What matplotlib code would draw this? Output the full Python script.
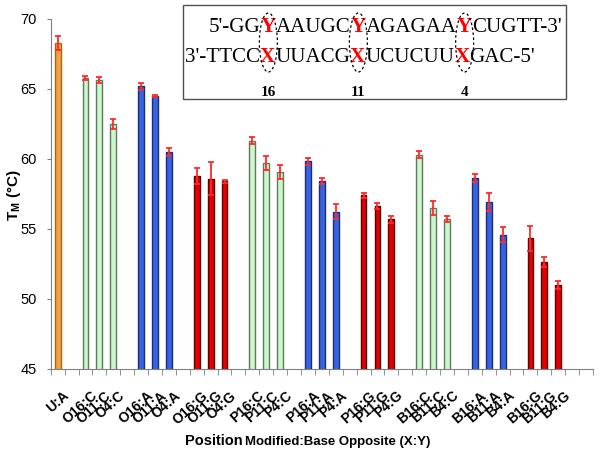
import numpy as np
import matplotlib
matplotlib.use("Agg")
import matplotlib.pyplot as plt
from matplotlib.patches import Rectangle, Ellipse
from matplotlib.transforms import ScaledTranslation

plt.rcParams.update({"font.family": "Liberation Sans",
                     "mathtext.fontset": "custom",
                     "mathtext.rm": "Liberation Sans",
                     "mathtext.bf": "Liberation Sans:bold"})

# --- data ---
labels = ["U:A",
          "O16:C", "O11:C", "O4:C", "O16:A", "O11:A", "O4:A", "O16:G", "O11:G", "O4:G",
          "P16:C", "P11:C", "P4:C", "P16:A", "P11:A", "P4:A", "P16:G", "P11:G", "P4:G",
          "B16:C", "B11:C", "B4:C", "B16:A", "B11:A", "B4:A", "B16:G", "B11:G", "B4:G"]
tm = [68.3,
      65.8, 65.65, 62.5, 65.2, 64.5, 60.5, 58.8, 58.6, 58.4,
      61.3, 59.7, 59.05, 59.85, 58.45, 56.25, 57.4, 56.65, 55.7,
      60.3, 56.5, 55.7, 58.65, 56.95, 54.6, 54.35, 52.65, 51.0]
err = [0.5,
       0.15, 0.2, 0.35, 0.25, 0.1, 0.3, 0.55, 1.2, 0.1,
       0.25, 0.5, 0.5, 0.25, 0.2, 0.55, 0.15, 0.2, 0.25,
       0.25, 0.5, 0.2, 0.3, 0.65, 0.55, 0.9, 0.35, 0.3]

seq_top = ["5'-GG", "Y", "AAUGC", "Y", "AGAGAA", "Y", "CUGTT-3'"]
seq_bot = ["3'-TTCC", "X", "UUACG", "X", "UCUCUU", "X", "GAC-5'"]
site_nums = ["16", "11", "4"]

# fill / edge colour by opposite base
fills = {"A": ("#3464E0", "#1C2C7A"), "C": ("#CCF7CC", "#5E7A5E"),
         "G": ("#E40000", "#5A0000"), "U:A": ("#F2A23E", "#A06A20")}

W, H = 602, 455
fig = plt.figure(figsize=(W / 100, H / 100), dpi=100)
ax = fig.add_axes([50.7 / W, 1 - 369 / H, (593 - 50.7) / W, 350 / H])

# slot layout: control, gap, then groups of three separated by a gap
pos = [0] + [2 + 4 * (i // 3) + i % 3 for i in range(len(labels) - 1)]
cols = [fills["U:A"] if l == "U:A" else fills[l[-1]] for l in labels]

ax.bar(pos, tm, width=0.42, color=[c[0] for c in cols],
       edgecolor=[c[1] for c in cols], linewidth=1.0, zorder=2)
ax.errorbar(pos, tm, yerr=err, fmt="none", ecolor="#FF2A2A", elinewidth=1.3,
            capsize=2.2, capthick=1.3, zorder=3)

ax.set_ylim(45, 70)
ax.set_xlim(-0.5, 38.5)
ax.set_yticks([45, 50, 55, 60, 65, 70])
ax.tick_params(axis="y", labelsize=10.5, length=3, color="#808080", pad=7)
ax.set_xticks(pos)
ax.set_xticklabels(labels, rotation=42, ha="right", va="top", rotation_mode="anchor",
                   fontweight="bold", fontsize=10)
ax.set_xticks(np.arange(-0.5, 39, 1), minor=True)
ax.tick_params(axis="x", which="major", length=0, pad=14)
ax.tick_params(axis="x", which="minor", length=4, color="#808080")
off = ScaledTranslation(5 / 100, 0, fig.dpi_scale_trans)
for t in ax.get_xticklabels():
    t.set_transform(t.get_transform() + off)
for s in ("top", "right"):
    ax.spines[s].set_visible(False)
for s in ("left", "bottom"):
    ax.spines[s].set_color("#808080")

fig.text(14 / W, 1 - 195 / H, r"T$_\mathbf{M}$ (°C)", rotation=90, ha="center",
         va="center", fontsize=11, fontweight="bold")

fig.canvas.draw()
rend = fig.canvas.get_renderer()

t1 = fig.text(185 / W, 10 / H, "Position", fontsize=10.5, fontweight="bold", va="baseline")
x1 = t1.get_window_extent(rend).x1
fig.text((x1 + 2) / W, 10 / H, "Modified:Base Opposite (X:Y)", fontsize=9.5,
         fontweight="bold", va="baseline")

# --- inset with the duplex sequence ---
fig.add_artist(Rectangle((183 / W, 1 - 99 / H), (566 - 183) / W, 94 / H,
                         transform=fig.transFigure, facecolor="white",
                         edgecolor="#505050", lw=1.0, zorder=5))


def write_seq(parts, x0, y0):
    x = x0
    centres = []
    for k, p in enumerate(parts):
        red = k % 2 == 1
        t = fig.text(x / W, y0 / H, p, fontsize=15.1, va="baseline", zorder=6,
                     family="Liberation Serif", color="#FF0000" if red else "black",
                     fontweight="bold" if red else "normal")
        bb = t.get_window_extent(rend)
        if red:
            centres.append((bb.x0 + bb.x1) / 2)
        x = bb.x1
    return centres


cx = write_seq(seq_top, 209, H - 32)
write_seq(seq_bot, 185, H - 62)
for c, n in zip(cx, site_nums):
    fig.add_artist(Ellipse((c / W, (H - 42.5) / H), 18 / W, 59 / H,
                           transform=fig.transFigure, fill=False, ls=(0, (2, 2)),
                           lw=0.9, edgecolor="black", zorder=7))
    fig.text(c / W, (H - 92) / H, n, ha="center", va="center", fontsize=11,
             family="Liberation Serif", fontweight="bold", zorder=6)

fig.savefig("out.png", dpi=100)
